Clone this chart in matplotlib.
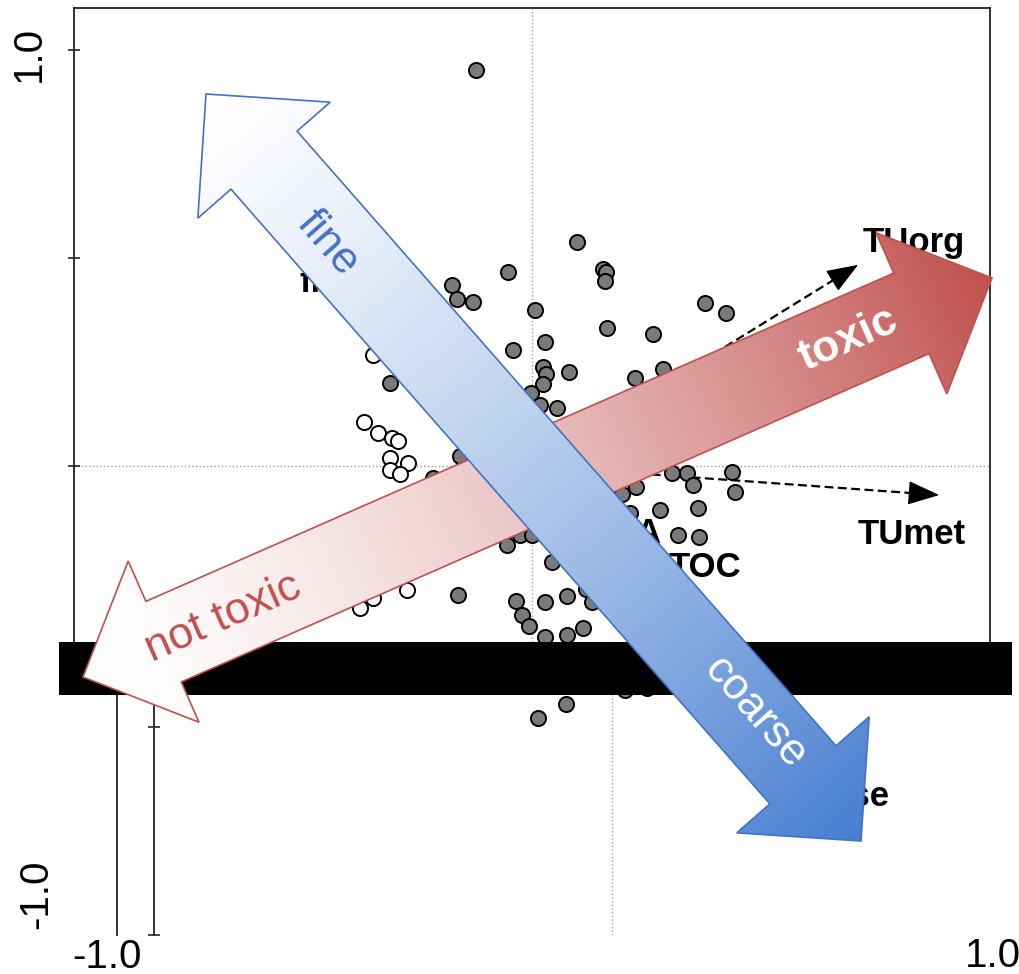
import numpy as np
import matplotlib
matplotlib.use('Agg')
import matplotlib.pyplot as plt
from matplotlib.patches import Polygon, Rectangle

plt.rcParams['font.family'] = ['Liberation Sans', 'DejaVu Sans']

# ---------------- data (ordination scores) ----------------
GRAY_X = [-0.122, -0.052, -0.175, -0.164, -0.129, 0.007, 0.028, -0.041, -0.310, 0.024,
          0.031, 0.024, -0.002, 0.017, 0.055, -0.157, 0.098, 0.155, 0.162, 0.159,
          0.378, 0.424, 0.164, 0.264, 0.081, 0.225, 0.286, 0.306, 0.338, 0.437,
          0.352, 0.443, 0.227, 0.279, 0.362, 0.319, 0.365, 0.197, 0.214, 0.044,
          0.028, 0.076, 0.118, 0.131, 0.028, 0.076, 0.111, -0.055, -0.026, 0.000,
          -0.162, -0.035, -0.022, -0.007, -0.216, -0.162, -0.100]
GRAY_Y = [0.950, 0.466, 0.435, 0.401, 0.394, 0.375, 0.298, 0.279, 0.200, 0.238,
          0.221, 0.197, 0.175, 0.147, 0.139, 0.024, 0.538, 0.474, 0.466, 0.445,
          0.392, 0.368, 0.332, 0.317, 0.226, 0.212, 0.233, -0.017, -0.017, -0.014,
          -0.046, -0.063, -0.050, -0.106, -0.101, -0.166, -0.171, -0.067, -0.113, -0.231,
          -0.327, -0.313, -0.296, -0.327, -0.411, -0.406, -0.389, -0.190, -0.166, -0.166,
          -0.310, -0.325, -0.358, -0.385, -0.029, -0.478, -0.445]
WHITE_X = [-0.347, -0.367, -0.336, -0.306, -0.293, -0.310, -0.271, -0.310, -0.288,
           -0.273, -0.347, -0.376]
WHITE_Y = [0.267, 0.106, 0.079, 0.067, 0.060, 0.019, 0.007, -0.010, -0.019,
           -0.298, -0.317, -0.341]

VECTOR_NAMES = ['TUorg', 'TUmet']
VECTOR_X = [0.712, 0.889]
VECTOR_Y = [0.483, -0.070]

LABEL_TEXT = ['TUorg', 'TUmet', 'TOC', 'A', 'fine', 'coarse']
LABEL_X = [0.834, 0.830, 0.378, 0.253, -0.507, 0.607]
LABEL_Y = [0.536, -0.166, -0.245, -0.163, 0.440, -0.668]
LABEL_HA = ['center', 'center', 'center', 'center', 'left', 'right']

Y_TICKS_UPPER = [0.0, 0.5, 1.0]
Y_TICKS_LOWER = [-0.5, -1.0]
Y_TICK_LABELS = ['1.0', '-1.0']
X_TICK_LABELS = ['-1.0', '1.0']

ARROW_TEXTS = ['not toxic', 'toxic', 'fine', 'coarse']

# ---------------- layout (pixels) ----------------
W, H = 1019, 974
fig = plt.figure(figsize=(W / 100, H / 100), dpi=100)
fig.patch.set_facecolor('white')

PX_PER_X = 458.0
PX_PER_Y = 416.0
Y0_PX = 466.0           # pixel row of y = 0 in the upper piece
CUT_TOP, CUT_BOT = 642, 695
Y_CUT = -(CUT_TOP - Y0_PX) / PX_PER_Y
SHIFT_X = 80
HEAD_PX = 28.0          # length of the vector arrow heads in pixels


def fr(left, top, right, bottom):
    return [left / W, 1 - bottom / H, (right - left) / W, (bottom - top) / H]


SPINE_C = '#222222'
GRID_C = '#9a9a9a'

ax_up = fig.add_axes(fr(74, 8, 990, CUT_TOP))
ax_up.set_xlim(-1, 1)
ax_up.set_ylim(Y_CUT, 1.1)
ax_lo = fig.add_axes(fr(74 + SHIFT_X, CUT_BOT, 74 + SHIFT_X + 916, 935))
ax_lo.set_xlim(-1, 1)
ax_lo.set_ylim(-1.0, Y_CUT)

for ax in (ax_up, ax_lo):
    ax.set_facecolor('none')
    ax.set_xticks([])
    ax.axvline(0, color=GRID_C, ls=':', lw=1.0, zorder=0.5)
    ax.axhline(0, color=GRID_C, ls=':', lw=1.0, zorder=0.5)
    for name, vx, vy in zip(VECTOR_NAMES, VECTOR_X, VECTOR_Y):
        lpx = np.hypot(vx * PX_PER_X, vy * PX_PER_Y)
        f = 1 - HEAD_PX / lpx
        ax.plot([0, vx * f], [0, vy * f], color='black', lw=1.6, ls=(0, (4, 2)),
                zorder=2)
        ax.annotate('', xy=(vx, vy), xytext=(vx * f, vy * f), annotation_clip=True,
                    arrowprops=dict(arrowstyle='-|>,head_length=1.0,head_width=0.38',
                                    mutation_scale=20, lw=1.0, color='black',
                                    shrinkA=0, shrinkB=0),
                    zorder=2)
    ax.scatter(GRAY_X, GRAY_Y, s=118, c='#7a7a7a', edgecolors='black',
               linewidths=1.4, zorder=3)
    ax.scatter(WHITE_X, WHITE_Y, s=118, c='white', edgecolors='black',
               linewidths=1.4, zorder=3)
    for t, x, y, ha in zip(LABEL_TEXT, LABEL_X, LABEL_Y, LABEL_HA):
        ax.text(x, y, t, ha=ha, va='center', fontsize=25, fontweight='bold',
                clip_on=True, zorder=4)
    ax.tick_params(axis='y', direction='inout', length=8, width=1.2,
                   color=SPINE_C, labelleft=False)

ax_up.set_yticks(Y_TICKS_UPPER)
ax_lo.set_yticks(Y_TICKS_LOWER)
ax_up.spines['bottom'].set_visible(False)
for s in ('top', 'left', 'right'):
    ax_up.spines[s].set_color(SPINE_C)
    ax_up.spines[s].set_linewidth(1.3)
for s in ('top', 'right', 'bottom'):
    ax_lo.spines[s].set_visible(False)
ax_lo.spines['left'].set_color(SPINE_C)
ax_lo.spines['left'].set_linewidth(1.3)

# tick labels
fig.text(29 / W, 1 - 54 / H, Y_TICK_LABELS[0], rotation=90, ha='center', va='center', fontsize=29)
fig.text(36 / W, 1 - 894 / H, Y_TICK_LABELS[1], rotation=90, ha='center', va='center', fontsize=29)
fig.text(107 / W, 1 - 957 / H, X_TICK_LABELS[0], ha='center', va='center', fontsize=29)
fig.text(993 / W, 1 - 956 / H, X_TICK_LABELS[1], ha='center', va='center', fontsize=29)

# ---------------- overlay (pixel coordinates) ----------------
ov = fig.add_axes([0, 0, 1, 1], zorder=10)
ov.set_xlim(0, W)
ov.set_ylim(H, 0)
ov.axis('off')
ov.patch.set_alpha(0)

ov.plot([117, 117], [CUT_BOT, 935], color=SPINE_C, lw=1.3, zorder=0.5)
ov.add_patch(Rectangle((59, CUT_TOP), 1012 - 59, CUT_BOT - CUT_TOP, facecolor='black',
                       edgecolor='none', zorder=1))

HEAD_LEN, HEAD_W, BODY_W = 88.0, 176.0, 88.0
XX, YY = np.meshgrid(np.arange(W) + 0.5, np.arange(H) + 0.5)


def block_arrow(p0, p1, c0, c1, edge, gamma, z):
    p0 = np.array(p0, float)
    p1 = np.array(p1, float)
    d = p1 - p0
    L = np.hypot(*d)
    u = d / L
    n = np.array([-u[1], u[0]])
    hl, hw, bw = HEAD_LEN, HEAD_W / 2, BODY_W / 2
    pts = [p0, p0 + u * hl + n * hw, p0 + u * hl + n * bw, p1 - u * hl + n * bw,
           p1 - u * hl + n * hw, p1, p1 - u * hl - n * hw, p1 - u * hl - n * bw,
           p0 + u * hl - n * bw, p0 + u * hl - n * hw]
    poly = Polygon(pts, closed=True, facecolor='none', edgecolor=edge, lw=1.2,
                   zorder=z + 0.1)
    ov.add_patch(poly)
    t = np.clip(((XX - p0[0]) * u[0] + (YY - p0[1]) * u[1]) / L, 0, 1) ** gamma
    img = (1 - t)[..., None] * np.array(c0) + t[..., None] * np.array(c1)
    im = ov.imshow(img, extent=(0, W, H, 0), origin='upper', aspect='auto',
                   interpolation='bilinear', zorder=z)
    im.set_clip_path(poly)


RED = (192 / 255, 80 / 255, 77 / 255)
BLUE = (70 / 255, 126 / 255, 208 / 255)
block_arrow((83, 677), (992, 278), (1, 1, 1), RED, '#C0504D', 1.5, 2)
block_arrow((206, 94), (861, 841), (1, 1, 1), BLUE, '#4472C4', 1.3, 3)
ov.set_xlim(0, W)
ov.set_ylim(H, 0)

red_rot = np.degrees(np.arctan2(677 - 278, 992 - 83))
blue_rot = -np.degrees(np.arctan2(841 - 94, 861 - 206))
ov.text(223, 618, ARROW_TEXTS[0], color='#C0504D', fontsize=32, rotation=red_rot,
        rotation_mode='anchor', ha='center', va='center', zorder=5)
ov.text(848, 340, ARROW_TEXTS[1], color='white', fontsize=32, fontweight='bold',
        rotation=red_rot, rotation_mode='anchor', ha='center', va='center', zorder=5)
ov.text(328, 243, ARROW_TEXTS[2], color='#4472C4', fontsize=32, rotation=blue_rot,
        rotation_mode='anchor', ha='center', va='center', zorder=5)
ov.text(755, 713, ARROW_TEXTS[3], color='white', fontsize=32, rotation=blue_rot,
        rotation_mode='anchor', ha='center', va='center', zorder=5)

fig.savefig('out.png', dpi=100, facecolor='white')
